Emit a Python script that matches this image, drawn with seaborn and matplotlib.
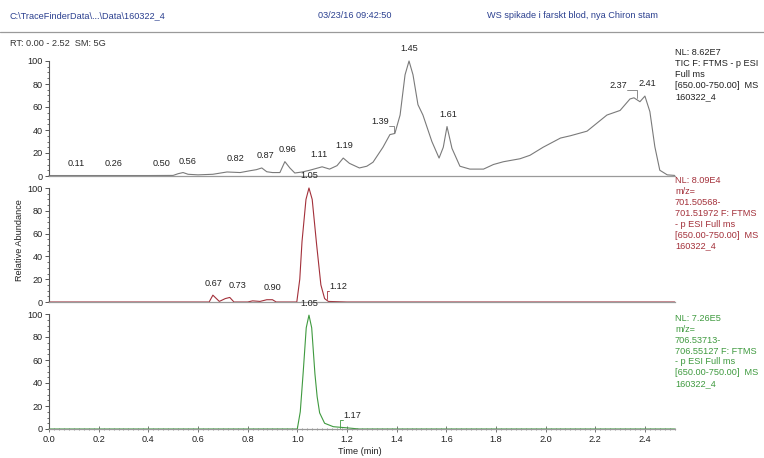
import numpy as np
import pandas as pd
import matplotlib
matplotlib.use("Agg")
import matplotlib.pyplot as plt
import seaborn as sns
from matplotlib import font_manager
from matplotlib.lines import Line2D
from matplotlib.ticker import MultipleLocator

# ---------------- data ----------------
tic_time = [0.00, 0.10, 0.20, 0.30, 0.40, 0.50, 0.52, 0.54, 0.56, 0.60, 0.66, 0.717, 0.77, 0.81,
            0.835, 0.857, 0.877, 0.90, 0.93, 0.95, 0.97, 0.99, 1.02, 1.05, 1.10, 1.13, 1.16,
            1.185, 1.21, 1.25, 1.28, 1.305, 1.345, 1.373, 1.393, 1.414, 1.434, 1.45, 1.466,
            1.486, 1.506, 1.542, 1.571, 1.588, 1.603, 1.623, 1.655, 1.695, 1.75, 1.79, 1.83,
            1.897, 1.937, 1.99, 2.06, 2.10, 2.167, 2.207, 2.247, 2.30, 2.34, 2.356, 2.38,
            2.40, 2.42, 2.44, 2.46, 2.49, 2.52]
tic_int = [0.4, 0.4, 0.4, 0.4, 0.4, 0.5, 2.0, 3.0, 1.5, 1.0, 1.5, 3.5, 3.0, 4.6,
           5.5, 7.0, 3.7, 3.0, 3.0, 12.5, 7.0, 2.6, 3.5, 5.0, 8.0, 6.0, 9.0,
           15.6, 11.0, 7.0, 8.5, 12.0, 25.0, 36.0, 37.0, 53.0, 88.0, 100.0, 88.0,
           62.0, 53.0, 30.0, 15.6, 25.0, 43.0, 24.0, 8.5, 6.0, 6.0, 10.0, 12.4,
           15.0, 18.0, 25.0, 33.0, 35.0, 39.0, 46.0, 53.0, 57.0, 67.0, 68.0, 64.6,
           69.5, 56.0, 25.5, 5.0, 1.0, 0.5]

m701_time = [0.00, 0.60, 0.645, 0.66, 0.686, 0.71, 0.728, 0.745, 0.80, 0.82, 0.85, 0.877,
             0.90, 0.915, 0.95, 0.998, 1.01, 1.019, 1.035, 1.047, 1.06, 1.078, 1.095,
             1.11, 1.125, 1.20, 2.52]
m701_int = [0.0, 0.0, 0.0, 6.0, 0.5, 3.0, 4.0, 0.0, 0.0, 1.0, 0.5, 2.0,
            2.0, 0.0, 0.0, 0.0, 20.0, 53.0, 90.0, 100.0, 90.0, 50.0, 15.0,
            3.0, 0.5, 0.0, 0.0]

m706_time = [0.00, 0.95, 1.00, 1.012, 1.024, 1.036, 1.047, 1.058, 1.071, 1.08, 1.09,
             1.11, 1.145, 1.20, 1.25, 2.52]
m706_int = [0.0, 0.0, 0.0, 15.0, 50.0, 88.0, 99.0, 88.0, 48.0, 28.0, 14.0,
            5.0, 2.0, 1.0, 0.0, 0.0]

tic_peaks = [0.11, 0.26, 0.50, 0.56, 0.82, 0.87, 0.96, 1.11, 1.19, 1.39, 1.45, 1.61, 2.37, 2.41]
tic_peak_int = [0.4, 0.4, 0.5, 2.0, 4.6, 7.0, 12.5, 8.0, 15.6, 37.0, 100.0, 43.0, 68.0, 69.5]
m701_peaks = [0.67, 0.73, 0.90, 1.05, 1.12]
m701_peak_int = [6.0, 4.0, 2.0, 100.0, 3.0]
m706_peaks = [1.05, 1.17]
m706_peak_int = [99.0, 1.0]

header_texts = ["C:\\TraceFinderData\\...\\Data\\160322_4", "03/23/16 09:42:50",
                "WS spikade i farskt blod, nya Chiron stam"]
rt_text = "RT: 0.00 - 2.52  SM: 5G"
tic_info = ["NL: 8.62E7", "TIC F: FTMS - p ESI", "Full ms", "[650.00-750.00]  MS", "160322_4"]
m701_info = ["NL: 8.09E4", "m/z=", "701.50568-", "701.51972 F: FTMS", "- p ESI Full ms",
             "[650.00-750.00]  MS", "160322_4"]
m706_info = ["NL: 7.26E5", "m/z=", "706.53713-", "706.55127 F: FTMS", "- p ESI Full ms",
             "[650.00-750.00]  MS", "160322_4"]

# ---------------- style ----------------
sns.set_theme(style="white")
fam = "Liberation Sans"
try:
    font_manager.findfont("Liberation Sans Narrow", fallback_to_default=False)
    fam = "Liberation Sans Narrow"
except Exception:
    pass
plt.rcParams["font.family"] = [fam, "DejaVu Sans"]

W, H = 764, 458
fig = plt.figure(figsize=(W / 100, H / 100), dpi=100)
fig.patch.set_facecolor("white")

def fy(py):
    return 1 - py / H

x_left, x_right = 49, 674.7
FS = 6.6
GRAY = "#7a7a7a"
RED = "#a3303a"
GREEN = "#3f9a3f"
BLUE = "#2a3f8f"

# header
fig.text(10 / W, fy(16), header_texts[0], fontsize=FS, color=BLUE, va="center")
fig.text(318 / W, fy(16), header_texts[1], fontsize=FS, color=BLUE, va="center")
fig.text(487 / W, fy(16), header_texts[2], fontsize=FS, color=BLUE, va="center")
fig.add_artist(Line2D([0, 1], [fy(32), fy(32)], color="#9a9a9a", lw=0.9))
fig.text(10 / W, fy(44), rt_text, fontsize=FS, color="#333333", va="center")

panels = [
    dict(time=tic_time, inten=tic_int, color=GRAY, zero=176, top=61, info=tic_info,
         info_color="#222222", info_y=52.7, peaks=tic_peaks, pint=tic_peak_int,
         ldx={0.50: -12, 0.82: -17, 1.11: -6, 1.39: -14, 2.37: -19},
         lead={1.39, 2.37}),
    dict(time=m701_time, inten=m701_int, color=RED, zero=302, top=188, info=m701_info,
         info_color=RED, info_y=180.7, peaks=m701_peaks, pint=m701_peak_int,
         ldx={0.67: -2, 0.73: 7, 0.90: 0, 1.12: 11}, lead={1.12}),
    dict(time=m706_time, inten=m706_int, color=GREEN, zero=429, top=314, info=m706_info,
         info_color=GREEN, info_y=318.3, peaks=m706_peaks, pint=m706_peak_int,
         ldx={1.17: 13}, lead={1.17}),
]

for i, p in enumerate(panels):
    ax = fig.add_axes([x_left / W, fy(p["zero"]), (x_right - x_left) / W,
                       (p["zero"] - p["top"]) / H])
    ax.set_facecolor("none")
    df = pd.DataFrame({"t": p["time"], "I": p["inten"]})
    sns.lineplot(data=df, x="t", y="I", ax=ax, color=p["color"], lw=0.8,
                 estimator=None, sort=False, clip_on=False)
    ax.set_xlim(0, 2.52)
    ax.set_ylim(0, 100)
    ax.set_xlabel("")
    ax.set_ylabel("")
    for s in ["top", "right"]:
        ax.spines[s].set_visible(False)
    ax.spines["left"].set_color("#555555")
    ax.spines["left"].set_linewidth(0.8)
    ax.spines["bottom"].set_color("#9a9a9a")
    ax.spines["bottom"].set_linewidth(0.9)
    ax.yaxis.set_major_locator(MultipleLocator(20))
    ax.yaxis.set_minor_locator(MultipleLocator(5))
    ax.tick_params(axis="y", which="major", direction="out", length=3, width=0.7,
                   colors="#555555", labelsize=FS, labelcolor="#222222", pad=1.5, left=True)
    ax.tick_params(axis="y", which="minor", direction="out", length=1.5, width=0.6,
                   colors="#555555", left=True)
    if i < 2:
        ax.set_xticks([])
        ax.tick_params(axis="x", which="both", bottom=False, labelbottom=False)
    else:
        ax.xaxis.set_minor_locator(MultipleLocator(0.02))
        ax.set_xticks(np.round(np.arange(0, 2.41, 0.2), 1))
        ax.set_xticklabels([f"{v:.1f}" for v in np.arange(0, 2.41, 0.2)])
        ax.tick_params(axis="x", which="major", direction="inout", length=4, width=0.7,
                       colors="#777777", labelsize=FS, labelcolor="#222222", pad=2, bottom=True)
        ax.tick_params(axis="x", which="minor", direction="inout", length=2, width=0.6,
                       colors="#8a8a8a", bottom=True)
    # peak labels
    for t, v in zip(p["peaks"], p["pint"]):
        dx = p["ldx"].get(t, 0) * 0.72
        ax.annotate(f"{t:.2f}", xy=(t, v), xytext=(dx, 5.5), textcoords="offset points",
                    ha="center", va="bottom", fontsize=FS, color="#222222",
                    annotation_clip=False)
        if t in p["lead"]:
            sx = dx + 6.5 if dx < 0 else dx - 6.5
            ax.annotate("", xy=(t, v), xytext=(sx, 5.5), textcoords="offset points",
                        arrowprops=dict(arrowstyle="-", color=p["color"], lw=0.6,
                                        shrinkA=0, shrinkB=0,
                                        connectionstyle="angle,angleA=0,angleB=90,rad=0"),
                        annotation_clip=False)
    # info texts on the right
    for k, line in enumerate(p["info"]):
        fig.text(675 / W, fy(p["info_y"] + k * 10.9), line, fontsize=FS,
                 color=p["info_color"], va="center")

fig.text(20 / W, fy(240), "Relative Abundance", rotation=90, fontsize=FS,
         color="#222222", ha="center", va="center")
fig.text(360 / W, fy(452), "Time (min)", fontsize=FS, color="#222222",
         ha="center", va="center")

fig.savefig("out.png", dpi=100, facecolor="white")
